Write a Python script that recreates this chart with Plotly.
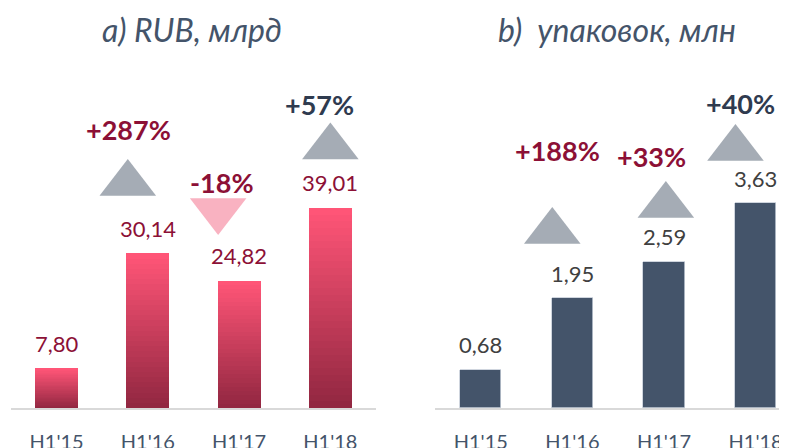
import plotly.graph_objects as go

# данные
periods = ["H1'15", "H1'16", "H1'17", "H1'18"]
rub_bn = [7.80, 30.14, 24.82, 39.01]
packs_mn = [0.68, 1.95, 2.59, 3.63]
rub_change = ["+287%", "-18%", "+57%"]
packs_change = ["+188%", "+33%", "+40%"]

# где стоят стрелки и подписи изменений (в координатах осей)
rub_arrow_x = [0.78, 1.77, 3.0]
rub_arrow_y = [43.8, 38.5, 50.9]
rub_text_x = [0.79, 1.81, 2.88]
rub_text_y = [54.4, 43.9, 59.1]
packs_arrow_x = [0.78, 2.02, 2.78]
packs_arrow_y = [3.13, 3.59, 4.60]
packs_text_x = [0.84, 1.86, 2.83]
packs_text_y = [4.57, 4.45, 5.39]

FONT = "Lato"
SLATE = "#44546A"
CRIMSON = "#8C1036"


def fmt(v):
    return f"{v:.2f}".replace(".", ",")


def mix(c1, c2, t):
    a = [int(c1[i:i + 2], 16) for i in (1, 3, 5)]
    b = [int(c2[i:i + 2], 16) for i in (1, 3, 5)]
    return "rgb({},{},{})".format(*[round(a[k] + (b[k] - a[k]) * t) for k in range(3)])


fig = go.Figure()

# левый график: столбцы с градиентом (снизу тёмный, сверху яркий)
n = 30
for k in range(n):
    fig.add_trace(go.Bar(
        x=list(range(len(periods))), y=[v / n for v in rub_bn],
        width=0.47, marker=dict(color=mix("#922741", "#FF5577", k / (n - 1)), line_width=0),
        xaxis="x", yaxis="y", showlegend=False, hoverinfo="skip"))

# правый график
fig.add_trace(go.Bar(
    x=list(range(len(periods))), y=packs_mn, width=0.45,
    marker=dict(color=SLATE, line=dict(color="#C3CBD6", width=0.8)),
    xaxis="x2", yaxis="y2", showlegend=False))

# стрелки
rub_symbols = ["triangle-up" if c.startswith("+") else "triangle-down" for c in rub_change]
rub_arrow_colors = ["#A5ACB5" if c.startswith("+") else "#F9B2C1" for c in rub_change]
fig.add_trace(go.Scatter(
    x=rub_arrow_x, y=rub_arrow_y, mode="markers",
    marker=dict(symbol=rub_symbols, size=49, color=rub_arrow_colors, line_width=0),
    xaxis="x", yaxis="y", showlegend=False))
fig.add_trace(go.Scatter(
    x=packs_arrow_x, y=packs_arrow_y, mode="markers",
    marker=dict(symbol="triangle-up", size=49, color="#A5ACB5", line_width=0),
    xaxis="x2", yaxis="y2", showlegend=False))

annotations = []
for i, v in enumerate(rub_bn):
    annotations.append(dict(x=i, y=v, xref="x", yref="y", text=fmt(v), showarrow=False,
                            yanchor="middle", yshift=25, font=dict(family=FONT, size=22, color=CRIMSON)))
for i, v in enumerate(packs_mn):
    annotations.append(dict(x=i, y=v, xref="x2", yref="y2", text=fmt(v), showarrow=False,
                            yanchor="middle", yshift=25, font=dict(family=FONT, size=22, color="#404040")))

# подписи изменений: последняя (итог) тёмно-синяя, остальные бордовые
for j, t in enumerate(rub_change):
    col = "#2F3B4F" if j == len(rub_change) - 1 else CRIMSON
    annotations.append(dict(x=rub_text_x[j], y=rub_text_y[j], xref="x", yref="y", text=f"<b>{t}</b>",
                            showarrow=False, yanchor="middle", font=dict(family=FONT, size=27, color=col)))
for j, t in enumerate(packs_change):
    col = "#2F3B4F" if j == len(packs_change) - 1 else CRIMSON
    annotations.append(dict(x=packs_text_x[j], y=packs_text_y[j], xref="x2", yref="y2", text=f"<b>{t}</b>",
                            showarrow=False, yanchor="middle", font=dict(family=FONT, size=27, color=col)))

# заголовки
annotations.append(dict(x=0.2344, y=0.951, xref="paper", yref="paper", text="<i>a) RUB, млрд</i>",
                        showarrow=False, xanchor="center", yanchor="middle",
                        font=dict(family=FONT, size=32, color=SLATE)))
annotations.append(dict(x=0.7738, y=0.951, xref="paper", yref="paper", text="<i>b)  упаковок, млн</i>",
                        showarrow=False, xanchor="center", yanchor="middle",
                        font=dict(family=FONT, size=32, color=SLATE)))

xcommon = dict(tickmode="array", tickvals=list(range(len(periods))), ticktext=periods,
               showline=True, linecolor="#D9D9D9", linewidth=2, showgrid=False, zeroline=False,
               ticks="outside", ticklen=15, tickcolor="rgba(0,0,0,0)",
               tickfont=dict(family=FONT, size=20, color=SLATE))
ycommon = dict(visible=False, showgrid=False, zeroline=False, domain=[0.1071, 1])

fig.update_layout(
    width=787, height=448, margin=dict(l=0, r=0, t=0, b=0),
    paper_bgcolor="white", plot_bgcolor="white",
    barmode="stack", bargap=0,
    xaxis=dict(domain=[0.0038, 0.4676], range=[-0.5, 3.5], **xcommon),
    xaxis2=dict(domain=[0.5426, 1.0], range=[-0.5, 3.43], anchor="y2", **xcommon),
    yaxis=dict(range=[0, 78.0], anchor="x", **ycommon),
    yaxis2=dict(range=[0, 7.09], anchor="x2", **ycommon),
    annotations=annotations,
)

fig.write_html("out.html")
